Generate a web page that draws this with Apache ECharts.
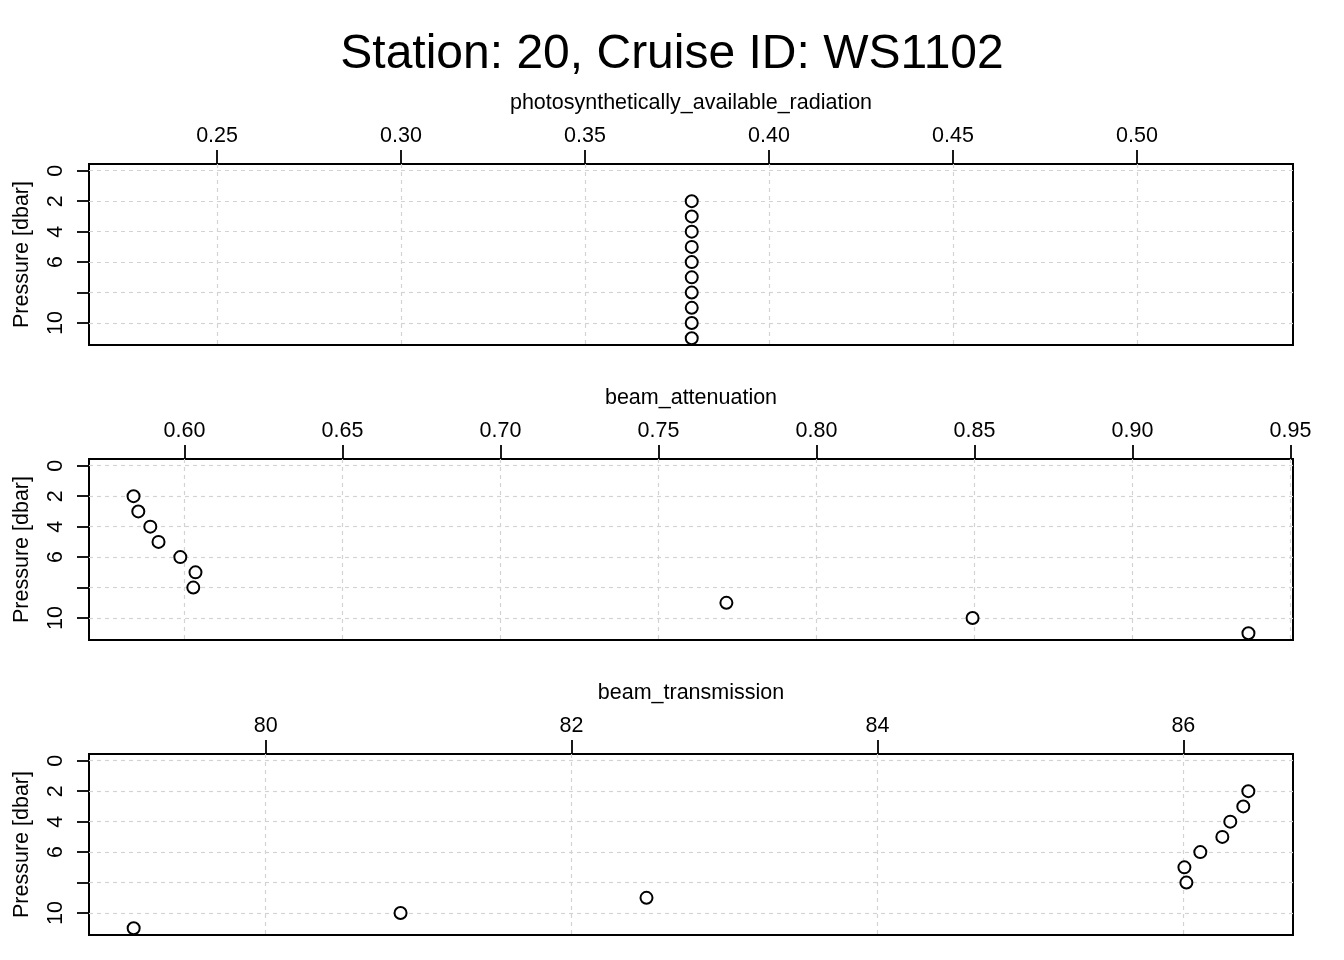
<!DOCTYPE html>
<html><head><meta charset="utf-8">
<script src="https://cdn.jsdelivr.net/npm/echarts@6/dist/echarts.min.js"></script>
<style>html,body{margin:0;padding:0;background:#fff}#c{width:1344px;height:960px}</style>
</head><body><div id="c"></div>
<script>
const titleText = 'Station: 20, Cruise ID: WS1102';
const pressure = [2, 3, 4, 5, 6, 7, 8, 9, 10, 11];
const parValues = [0.379, 0.379, 0.379, 0.379, 0.379, 0.379, 0.379, 0.379, 0.379, 0.379];
const attenuationValues = [0.5839, 0.5854, 0.5892, 0.5918, 0.5987, 0.6035, 0.6028, 0.7715, 0.8494, 0.9367];
const transmissionValues = [86.425, 86.392, 86.307, 86.255, 86.111, 86.007, 86.020, 82.490, 80.882, 79.137];
const panelNames = ['photosynthetically_available_radiation', 'beam_attenuation', 'beam_transmission'];
const xTicks = [
  [0.25, 0.30, 0.35, 0.40, 0.45, 0.50],
  [0.60, 0.65, 0.70, 0.75, 0.80, 0.85, 0.90, 0.95],
  [80, 82, 84, 86]
];
const xRanges = [[0.2152, 0.5424], [0.5698, 0.9508], [78.845, 86.717]];
const xDecimals = [2, 2, 0];
const yTicks = [0, 2, 4, 6, 8, 10];
const yLabels = [0, 2, 4, 6, 10];
const yRange = [-0.44, 11.44];
const yName = 'Pressure [dbar]';

const FONT = 'Liberation Sans, Arial, Helvetica, sans-serif';
const FS = 21.5;
const seriesValues = [parValues, attenuationValues, transmissionValues];
const tops = [164, 459, 754];

const grids = [], xAxes = [], yAxes = [], series = [];
for (let i = 0; i < 3; i++) {
  grids.push({left: 89, top: tops[i], width: 1204, height: 181, show: true,
    borderColor: '#000', borderWidth: 2, backgroundColor: 'transparent'});
  xAxes.push({
    gridIndex: i, type: 'value', position: 'top', min: xRanges[i][0], max: xRanges[i][1],
    name: panelNames[i], nameLocation: 'middle', nameGap: 50,
    nameTextStyle: {fontFamily: FONT, fontSize: FS, color: '#000'},
    axisLine: {show: false, onZero: false},
    axisTick: {show: true, inside: false, length: 14, lineStyle: {color: '#000', width: 1.8}, customValues: xTicks[i]},
    axisLabel: {show: true, margin: 17, fontFamily: FONT, fontSize: FS, color: '#000', customValues: xTicks[i],
      formatter: (v) => Number(v).toFixed(xDecimals[i])},
    splitLine: {show: true, lineStyle: {color: '#d3d3d3', type: [4, 4], width: 1.2}}
  });
  yAxes.push({
    gridIndex: i, type: 'value', inverse: true, min: yRange[0], max: yRange[1],
    name: yName, nameLocation: 'middle', nameGap: 56,
    nameTextStyle: {fontFamily: FONT, fontSize: FS, color: '#000'},
    axisLine: {show: false, onZero: false},
    axisTick: {show: true, inside: false, length: 12, lineStyle: {color: '#000', width: 1.8}, customValues: yTicks},
    axisLabel: {show: true, rotate: 90, margin: 22, fontFamily: FONT, fontSize: FS, color: '#000', customValues: yLabels},
    splitLine: {show: true, lineStyle: {color: '#d3d3d3', type: [4, 4], width: 1.2}}
  });
  series.push({
    type: 'scatter', xAxisIndex: i, yAxisIndex: i,
    symbol: 'emptyCircle', symbolSize: 12,
    itemStyle: {color: '#000', borderColor: '#000', borderWidth: 1.8, opacity: 1},
    data: seriesValues[i].map((v, k) => [v, pressure[k]]),
    silent: true
  });
}

const chart = echarts.init(document.getElementById('c'), null, {renderer: 'canvas'});
chart.setOption({
  animation: false,
  backgroundColor: '#fff',
  title: {text: titleText, left: 'center', top: 26,
    textStyle: {fontFamily: FONT, fontSize: 48, fontWeight: 'normal', color: '#000'}},
  grid: grids, xAxis: xAxes, yAxis: yAxes, series: series
});
</script></body></html>
